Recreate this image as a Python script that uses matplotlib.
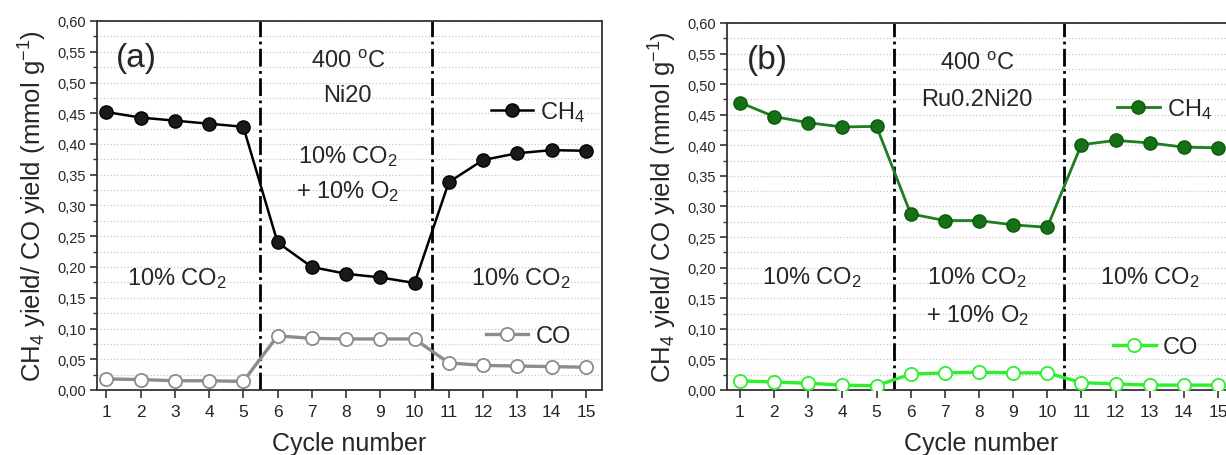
import numpy as np
import matplotlib.pyplot as plt

plt.rcParams['font.family'] = ['Liberation Sans', 'DejaVu Sans']
plt.rcParams['mathtext.fontset'] = 'custom'
plt.rcParams['mathtext.rm'] = 'Liberation Sans'
plt.rcParams['mathtext.it'] = 'Liberation Sans'

# data
cycles = np.arange(1, 16)
ch4_ni20 = [0.452, 0.443, 0.438, 0.433, 0.428, 0.240, 0.200, 0.189, 0.183, 0.174,
            0.338, 0.374, 0.385, 0.390, 0.389]
co_ni20 = [0.018, 0.017, 0.015, 0.015, 0.014, 0.088, 0.084, 0.083, 0.083, 0.083,
           0.044, 0.040, 0.039, 0.038, 0.037]
ch4_ru = [0.470, 0.447, 0.437, 0.430, 0.431, 0.288, 0.277, 0.277, 0.270, 0.266,
          0.401, 0.408, 0.404, 0.397, 0.396]
co_ru = [0.015, 0.013, 0.011, 0.008, 0.007, 0.026, 0.028, 0.029, 0.028, 0.028,
         0.012, 0.010, 0.008, 0.008, 0.008]
yticks = np.arange(0, 0.601, 0.05)
ytick_labels = ['%.2f' % v for v in yticks]
ytick_labels = [s.replace('.', ',') for s in ytick_labels]
dividers = [5.5, 10.5]

txt = '#262626'
fs = 17  # annotation size
fig = plt.figure(figsize=(12.26, 4.56), dpi=100)
W, H = 1226, 456
ax1 = fig.add_axes([97 / W, 1 - 391 / H, 505 / W, 369 / H])
ax2 = fig.add_axes([727 / W, 1 - 391 / H, 508 / W, 367 / H])


def style(ax, xlim):
    ax.set_xlim(*xlim)
    ax.set_ylim(0, 0.6)
    ax.set_xticks(cycles)
    ax.set_xticklabels([str(c) for c in cycles], fontsize=12.5, color=txt)
    ax.set_yticks(yticks)
    ax.set_yticklabels(ytick_labels, fontsize=10.5, color=txt)
    ax.set_yticks(np.arange(0.025, 0.6, 0.05), minor=True)
    ax.tick_params(direction='out', length=5, width=1.2, color='#333333', pad=3)
    ax.tick_params(axis='x', length=6, pad=4)
    ax.tick_params(which='minor', direction='out', length=3, width=1, color='#333333')
    ax.tick_params(axis='x', which='minor', bottom=False)
    ax.grid(axis='y', which='both', linestyle=':', color='#c8c8c8', linewidth=0.9)
    ax.set_axisbelow(True)
    for s in ax.spines.values():
        s.set_color('#333333')
        s.set_linewidth(1.3)
    for d in dividers:
        ax.axvline(d, color='black', linestyle='-.', linewidth=2)
    ax.set_xlabel('Cycle number', fontsize=18, color=txt, labelpad=9)
    ax.set_ylabel('CH$_4$ yield/ CO yield (mmol g$^{-1}$)', fontsize=18.5, color=txt, labelpad=6)


style(ax1, (0.73, 15.47))
style(ax2, (0.62, 15.5))

legkw = dict(frameon=False, fontsize=17, handlelength=1.8, handletextpad=0.3,
             borderpad=0, borderaxespad=0, labelcolor=txt, loc='center left')

# panel (a)
l1, = ax1.plot(cycles, ch4_ni20, '-o', color='black', lw=1.8, ms=9.5,
               mfc='#1a1a1a', mec='#000000', label='CH$_4$', zorder=4)
l2, = ax1.plot(cycles, co_ni20, '-o', color='#8c8c8c', lw=2.4, ms=9.5,
               mfc='white', mec='#8c8c8c', mew=1.3, label='CO', zorder=4)
leg = ax1.legend(handles=[l1], bbox_to_anchor=(0.78, 0.755), **legkw)
ax1.add_artist(leg)
ax1.legend(handles=[l2], bbox_to_anchor=(0.77, 0.146), **legkw)
ax1.text(1.87, 0.541, '(a)', fontsize=24, ha='center', va='center', color=txt)
ax1.text(8.05, 0.535, '400 $^{\\rm o}$C', fontsize=fs, ha='center', va='center', color=txt)
ax1.text(8.05, 0.48, 'Ni20', fontsize=fs, ha='center', va='center', color=txt)
ax1.text(8.05, 0.382, '10% CO$_2$', fontsize=fs, ha='center', va='center', color=txt)
ax1.text(8.05, 0.324, '+ 10% O$_2$', fontsize=fs, ha='center', va='center', color=txt)
ax1.text(3.05, 0.183, '10% CO$_2$', fontsize=fs, ha='center', va='center', color=txt)
ax1.text(13.1, 0.183, '10% CO$_2$', fontsize=fs, ha='center', va='center', color=txt)

# panel (b)
g1, = ax2.plot(cycles, ch4_ru, '-o', color='#1e7d1e', lw=2.0, ms=9.5,
               mfc='#167016', mec='#0c5a0c', label='CH$_4$', zorder=4)
g2, = ax2.plot(cycles, co_ru, '-o', color='#2cf02c', lw=2.4, ms=9.5,
               mfc='white', mec='#2cf02c', mew=1.3, label='CO', zorder=4)
leg = ax2.legend(handles=[g1], bbox_to_anchor=(0.768, 0.766), **legkw)
ax2.add_artist(leg)
ax2.legend(handles=[g2], bbox_to_anchor=(0.76, 0.117), **legkw)
ax2.text(1.8, 0.54, '(b)', fontsize=24, ha='center', va='center', color=txt)
ax2.text(7.95, 0.535, '400 $^{\\rm o}$C', fontsize=fs, ha='center', va='center', color=txt)
ax2.text(7.95, 0.475, 'Ru0.2Ni20', fontsize=fs, ha='center', va='center', color=txt)
ax2.text(3.1, 0.185, '10% CO$_2$', fontsize=fs, ha='center', va='center', color=txt)
ax2.text(7.95, 0.185, '10% CO$_2$', fontsize=fs, ha='center', va='center', color=txt)
ax2.text(7.95, 0.124, '+ 10% O$_2$', fontsize=fs, ha='center', va='center', color=txt)
ax2.text(13.0, 0.185, '10% CO$_2$', fontsize=fs, ha='center', va='center', color=txt)

fig.savefig('out.png', dpi=100)
